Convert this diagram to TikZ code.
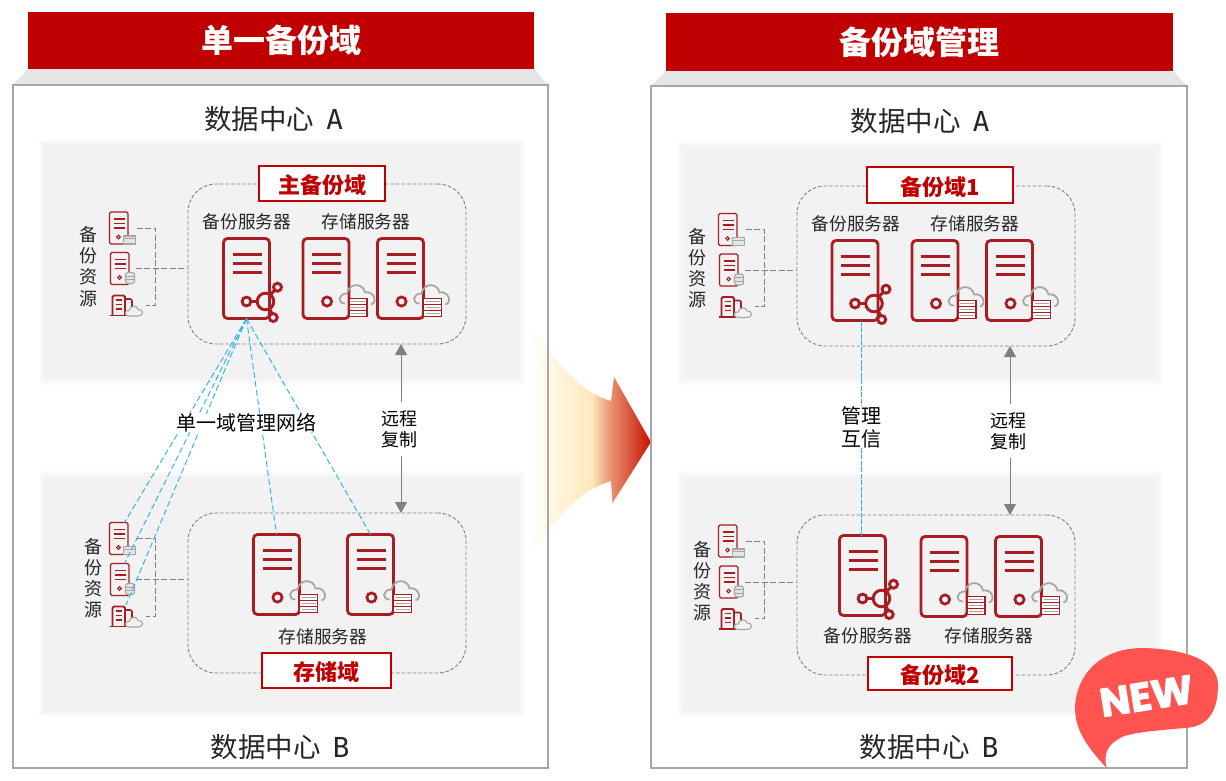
\documentclass[tikz,border=0pt]{standalone}
\usepackage{fontspec}
\setmainfont{Noto Sans CJK SC}
\newfontfamily\badgefont[FakeBold=2.2]{Poppins}
\newfontfamily\monof{DejaVu Sans Mono}
\usetikzlibrary{calc,arrows.meta}
\definecolor{barred}{HTML}{C00000}
\definecolor{icored}{HTML}{A81C22}
\definecolor{icogray}{HTML}{A6A6A6}
\definecolor{framegray}{HTML}{A6A6A6}
\definecolor{txt}{HTML}{262626}
\definecolor{cyanl}{HTML}{22B4F0}
\definecolor{badge}{HTML}{FF5450}
\definecolor{agZ}{HTML}{FFFDF8}
\definecolor{agA}{HTML}{FFE8BC}
\definecolor{agB}{HTML}{E89070}
\definecolor{agC}{HTML}{C81000}
\pgfdeclarehorizontalshading{arrowgrad}{100bp}{color(0bp)=(agZ);color(25bp)=(agZ);color(50bp)=(agA);color(58bp)=(agB);color(75bp)=(agC);color(100bp)=(agC)}
\newcommand{\softpanel}[4]{%
  \foreach \i/\c in {0/0.7,1/1.4,2/2.2,3/3,4/3.8,5/4.5,6/5.2}{%
    \fill[black!\c!white] (#1+\i-1,#2+\i-1) rectangle (#3-\i+1,#4-\i+1);}}
\newcommand{\hubpart}{%
  \draw[hubline] (42,63) circle (8.3);
  \draw[hubline] (23,63) circle (4.4);
  \draw[hubline] (27.4,63) -- (33.7,63);
  \draw[hubline] (54,48.7) circle (4);
  \draw[hubline] (49.7,79) circle (4);
  \draw[hubline] (47,56) -- (51,52);
  \draw[hubline] (46,70) -- (48.5,75);
}
\tikzset{
  x=1pt,y=-1pt,
  icoline/.style={draw=icored,line width=2.4pt},
  hubline/.style={draw=icored,line width=2.9pt},
  icothin/.style={draw=icored,line width=1.1pt},
  boxbig/.style={draw=icored,line width=2.8pt,rounded corners=4pt,minimum width=46pt,minimum height=80pt,inner sep=0pt,outer sep=0pt,fill=none},
  boxsmall/.style={draw=icored,line width=1.4pt,rounded corners=1.5pt,minimum width=18.5pt,minimum height=32pt,inner sep=0pt,outer sep=0pt},
  titlebar/.style={fill=barred,text=white,inner sep=0pt,outer sep=0pt,font=\fontsize{32}{34}\selectfont\bfseries},
  outerframe/.style={draw=framegray,line width=2pt,fill=none},
  traystrip/.style={fill=black!10!white},
  domainbox/.style={draw=black!50,dash pattern=on 3.5pt off 2pt,line width=0.9pt,rounded corners=28pt,inner sep=0pt,outer sep=0pt,minimum width=278pt,minimum height=160pt},
  tagbox/.style={draw=barred,line width=2pt,fill=white,text=barred,inner sep=0pt,outer sep=0pt,text height=22.5pt,text depth=2.5pt,font=\fontsize{22}{24}\selectfont\bfseries},
  dclabel/.style={text=txt,inner sep=0pt,font=\fontsize{27.5}{29}\selectfont},
  srvlabel/.style={text=txt,inner sep=0pt,font=\fontsize{17.7}{20}\selectfont},
  vlabel/.style={text=txt,inner sep=0pt,align=center,font=\fontsize{18}{21.2}\selectfont},
  blacklabel/.style={text=black,inner sep=0pt,align=center,font=\fontsize{18}{21}\selectfont},
  blackbig/.style={text=black,inner sep=0pt,align=center,font=\fontsize{20}{23}\selectfont},
  dashlink/.style={draw=black!50,line width=0.9pt,dash pattern=on 6pt off 2.5pt},
  fanline/.style={draw=cyanl,line width=0.9pt,dash pattern=on 6pt off 3pt},
  grayarrow/.style={draw=black!50,fill=black!50,line width=1pt,-{Triangle[length=11pt,width=12pt]}},
  mgmtline/.style={draw=cyanl,line width=0.9pt,dash pattern=on 5pt off 1.5pt},
  bkserver/.pic={
    \node[boxbig,anchor=north west] (-box) at (0,0) {};
    \foreach \y in {16,25,34}{\draw[icoline] (9,\y) -- (38,\y);}
    \hubpart
  },
  stserver/.pic={
    \node[boxbig,anchor=north west] (-box) at (0,0) {};
    \foreach \y in {16,25,34}{\draw[icoline] (9,\y) -- (38,\y);}
    \draw[icoline,line width=2.7pt] (24,63) circle (4.6);
    \draw[icogray,line width=1.8pt,fill=none] (42,65) .. controls (34,65) and (35,55) .. (44,55) .. controls (46,44) and (60,44) .. (62,54) .. controls (71,52) and (75,64) .. (68,66);
    \fill[white] (45,60) rectangle (65,78);
    \foreach \y in {60,66,72}{
      \draw[icothin,fill=white] (46,\y) rectangle (64,\y+6);
      \draw[icogray,line width=0.9pt] (48,\y+3) -- (62,\y+3);}
  },
  smallfolder/.pic={
    \node[boxsmall,anchor=north west] (-box) at (0,0) {};
    \coordinate (-hook) at (15,0);
    \coordinate (-out) at (27,16);
    \foreach \y in {7,11.5,16}{\draw[icored,line width=1.2pt] (4,\y) -- (15,\y);}
    \draw[icothin,line width=1pt] (9,25) circle (1.8);
    \draw[icogray,line width=1.1pt,fill=white!90!black] (14,24) rectangle (26,32);
    \draw[icogray,line width=1pt] (14,26.5) -- (26,26.5);
  },
  smalldb/.pic={
    \node[boxsmall,anchor=north west] (-box) at (0,0) {};
    \coordinate (-hook) at (14,0);
    \coordinate (-out) at (25,16);
    \foreach \y in {7,11.5,16}{\draw[icored,line width=1.2pt] (4,\y) -- (15,\y);}
    \draw[icothin,line width=1pt] (9,25) circle (1.8);
    \draw[icogray,line width=1.1pt,fill=white!90!black,rounded corners=2.5pt] (15,20) rectangle (24,31);
    \draw[icogray,line width=0.9pt] (15,23.5) -- (24,23.5) (15,27) -- (24,27);
  },
  smallbld/.pic={
    \coordinate (-box) at (9,11);
    \coordinate (-hook) at (16,0);
    \coordinate (-out) at (36,11);
    \draw[icored,line width=1.8pt,rounded corners=1.5pt] (2.5,21) -- (2.5,1.5) -- (15,1.5) -- (15,21);
    \draw[icored,line width=1.6pt,rounded corners=2pt] (15,5) -- (22,5) -- (22,13);
    \draw[icored,line width=1.8pt] (-0.5,21.5) -- (17,21.5);
    \foreach \y in {6,10.5,15}{\draw[icored,line width=1.3pt] (5.5,\y) -- (12,\y);}
    \draw[icogray,line width=1.1pt,fill=white!95!black] (19,22) .. controls (14,22) and (14,16) .. (19,16.5) .. controls (21,11) and (27,11) .. (28,15.5) .. controls (34,15) and (34,22) .. (28,22) -- cycle;
  },
}
\begin{document}
\begin{tikzpicture}[x=1pt,y=-1pt]
\useasboundingbox (0,0) rectangle (1226,781);
\fill[white] (0,0) rectangle (1226,781);
% trays and title bars
\fill[traystrip] (28,69) -- (534,69) -- (548,85) -- (13,85) -- cycle;
\fill[traystrip] (666,71) -- (1173,71) -- (1187,86) -- (651,86) -- cycle;
\node[titlebar,anchor=north west,minimum width=506pt,minimum height=57pt] (titleL) at (28,12) {单一备份域};
\node[titlebar,anchor=north west,minimum width=507pt,minimum height=58pt] (titleR) at (666,13) {备份域管理};
% soft panels
\softpanel{40}{140}{524}{384}
\softpanel{40}{472}{524}{716}
\softpanel{678}{142}{1162}{384}
\softpanel{678}{472}{1162}{716}
% big transition arrow
\shade[shading=arrowgrad] (533,330) .. controls (560,365) and (580,392) .. (611,401) -- (614,377) -- (651,442) -- (612.5,503) -- (611,481) .. controls (580,490) and (560,515) .. (533,550) -- cycle;
% frames
\draw[outerframe] (13,85.5) rectangle (548,768);
\draw[outerframe] (651,86) rectangle (1187,768);
% data centre captions
\node[dclabel] (dcLa) at (273.5,119) {数据中心\hspace{0.45em}{\monof A}};
\node[dclabel] (dcLb) at (280,747) {数据中心\hspace{0.45em}{\monof B}};
\node[dclabel] (dcRa) at (920,121) {数据中心\hspace{0.45em}{\monof A}};
\node[dclabel] (dcRb) at (929,747) {数据中心\hspace{0.45em}{\monof B}};
% domains
\node[domainbox,anchor=north west] (domLa) at (188,184) {};
\node[domainbox,anchor=north west] (domLb) at (188,513) {};
\node[domainbox,anchor=north west] (domRa) at (797,186) {};
\node[domainbox,anchor=north west] (domRb) at (797,515) {};
\node[tagbox,minimum width=126pt,minimum height=35pt] (tagLa) at (322,183.5) {主备份域};
\node[tagbox,minimum width=129pt,minimum height=35pt] (tagLb) at (326.5,670.5) {存储域};
\node[tagbox,minimum width=146pt,minimum height=36pt] (tagRa) at (940,185) {备份域1};
\node[tagbox,minimum width=144pt,minimum height=33pt] (tagRb) at (940,673.5) {备份域2};
% server captions
\node[srvlabel] (cap1) at (247,222) {备份服务器};
\node[srvlabel] (cap2) at (366,222) {存储服务器};
\node[srvlabel] (cap3) at (323,637) {存储服务器};
\node[srvlabel] (cap4) at (856,224) {备份服务器};
\node[srvlabel] (cap5) at (975,224) {存储服务器};
\node[srvlabel] (cap6) at (868,636) {备份服务器};
\node[srvlabel] (cap7) at (989,636) {存储服务器};
% large servers
\pic (bkLa) at (223.5,238.5) {bkserver};
\pic (stLa1) at (303,238.5) {stserver};
\pic (stLa2) at (377.5,238.5) {stserver};
\pic (stLb1) at (253.5,534.5) {stserver};
\pic (stLb2) at (347.5,534.5) {stserver};
\pic (bkRa) at (832,240.5) {bkserver};
\pic (stRa1) at (912,240.5) {stserver};
\pic (stRa2) at (986.5,240.5) {stserver};
\pic (bkRb) at (839.5,535.5) {bkserver};
\pic (stRb1) at (921,536.5) {stserver};
\pic (stRb2) at (995.5,536.5) {stserver};
% small resources
\pic (aLa) at (109.5,212) {smallfolder};
\pic (bLa) at (110.5,252.5) {smalldb};
\pic (cLa) at (110,294) {smallbld};
\pic (aLb) at (109.5,522.5) {smallfolder};
\pic (bLb) at (110.5,563.5) {smalldb};
\pic (cLb) at (110,605) {smallbld};
\pic (aRa) at (718.5,213.5) {smallfolder};
\pic (bRa) at (719.5,254) {smalldb};
\pic (cRa) at (719,295.5) {smallbld};
\pic (aRb) at (718.5,525) {smallfolder};
\pic (bRb) at (719.5,566) {smalldb};
\pic (cRb) at (719,607.5) {smallbld};
% resource captions
\node[vlabel] (resLa) at (88.5,266.5) {备\\份\\资\\源};
\node[vlabel] (resLb) at (93,578) {备\\份\\资\\源};
\node[vlabel] (resRa) at (697.5,268) {备\\份\\资\\源};
\node[vlabel] (resRb) at (702,581) {备\\份\\资\\源};
% resource brackets
\foreach \s/\x in {La/155.5,Lb/155.5,Ra/764.5,Rb/764.5}{
  \coordinate (j\s) at (\x,0);
  \draw[dashlink] (a\s-out) -| (j\s |- c\s-out) -- (c\s-out);
  \draw[dashlink] (b\s-out) -- (dom\s.west |- b\s-out);
}
% fan of the single-domain network
\draw[fanline] (bkLa-box.south) -- (aLb-hook);
\draw[fanline] (bkLa-box.south) -- (bLb-hook);
\draw[fanline] (bkLa-box.south) -- (cLb-hook);
\draw[fanline] (bkLa-box.south) -- (stLb1-box.north);
\draw[fanline] (bkLa-box.south) -- (stLb2-box.north);
\node[blackbig,fill=white] (net) at (246.5,423) {单一域管理网络};
% replication
\node[blacklabel] (repL) at (399,429) {远程\\复制};
\node[blacklabel] (repR) at (1008,431) {远程\\复制};
\coordinate (repLx) at (401,0);
\coordinate (repRx) at (1010,0);
\draw[grayarrow,shorten <=8pt] (repLx |- repL.north) -- (repLx |- domLa.south);
\draw[grayarrow,shorten <=8pt] (repLx |- repL.south) -- (repLx |- domLb.north);
\draw[grayarrow,shorten <=8pt] (repRx |- repR.north) -- (repRx |- domRa.south);
\draw[grayarrow,shorten <=8pt] (repRx |- repR.south) -- (repRx |- domRb.north);
% management trust
\node[blackbig] (trust) at (861.5,427) {管理\\互信};
\draw[mgmtline] (trust |- bkRa-box.south) -- (trust.north);
\draw[mgmtline] (trust.south) -- (trust |- bkRb-box.north);
% NEW badge
\fill[badge] (1106.7,768) .. controls (1085,745) and (1075,728) .. (1075,708) .. controls (1076,675) and (1100,648) .. (1143,648) .. controls (1185,649) and (1218,660) .. (1218,685) .. controls (1218,715) and (1205,727) .. (1185,728) .. controls (1150,731) and (1125,733) .. (1117,740) .. controls (1108,745) and (1103,755) .. (1106.7,768) -- cycle;
\node[text=white,inner sep=0pt,rotate=9,font=\badgefont\fontsize{40}{42}\selectfont\bfseries] (newtag) at (1146.5,696) {NEW};
\end{tikzpicture}
\end{document}
